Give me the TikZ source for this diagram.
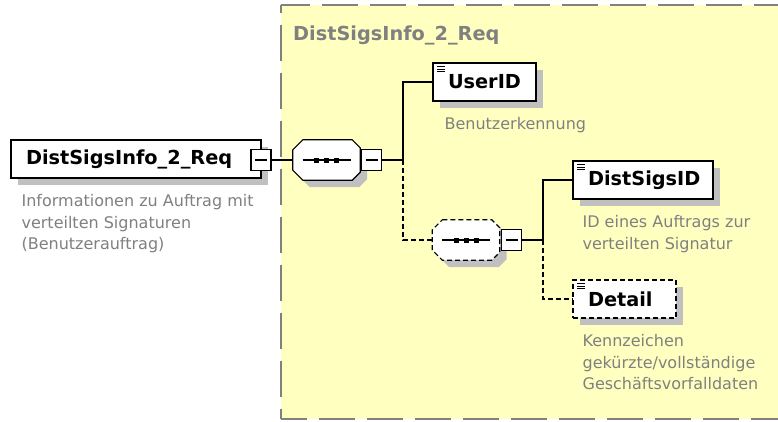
\documentclass[tikz,border=0pt]{standalone}
\usepackage{fontspec}
\setmainfont{DejaVu Sans}
\usetikzlibrary{shadows}

\definecolor{groupfill}{RGB}{255,255,192}
\definecolor{groupline}{RGB}{128,128,128}
\definecolor{shadowgray}{RGB}{192,192,192}
\definecolor{docgray}{RGB}{128,128,128}

\def \lineWidth {1.2pt}
\def \chamferL {10pt}
\def \chamferR {8pt}

\tikzset{
  boxshadow/.style={drop shadow={shadow xshift=7pt, shadow yshift=-7pt, fill=shadowgray, opacity=1}},
  elembox/.style={draw, fill=white, line width=\lineWidth, rectangle, minimum height=38pt,
    inner xsep=15pt, inner ysep=0pt, align=left, boxshadow,
    font=\fontsize{19.3}{21}\selectfont\bfseries},
  withicon/.style={path picture={
    \foreach \k in {0,1,2}
      \draw[solid, line width=0.8pt] ([xshift=4pt, yshift={-(3.5+2.6*\k)*1pt}]path picture bounding box.north west) -- ++(8pt,0);
  }},
  optional/.style={dash pattern=on 5pt off 3pt},
  foldbox/.style={draw, fill=white, line width=\lineWidth, rectangle, inner sep=0pt,
    minimum width=20pt, minimum height=21pt, path picture={
    \draw[solid, line width=\lineWidth] ([xshift=4pt]path picture bounding box.west) -- ([xshift=-4pt]path picture bounding box.east);
  }},
  seqslot/.style={rectangle, inner sep=0pt, minimum width=67pt, minimum height=40pt},
  seqline/.style={draw, fill=white, line width=\lineWidth, boxshadow},
  conn/.style={line width=\lineWidth},
  docnote/.style={anchor=north west, inner sep=0pt, align=left, text=docgray,
    font=\fontsize{16}{21.5}\selectfont},
  groupborder/.style={draw=groupline, line width=1.5pt, dash pattern=on 36pt off 12pt},
}

\begin{document}
\begin{tikzpicture}[x=1pt, y=-1pt]
  \useasboundingbox (0,0) rectangle (778,421);
  \clip (0,0) rectangle (778,421);
  \fill[white] (0,0) rectangle (778,421);

  % group of the complex type
  \fill[groupfill] (281,5) rectangle (790,419);
  \draw[groupborder, dash phase=7pt] (281,5) -- (790,5);
  \draw[groupborder, dash phase=26pt] (281,419) -- (281,5);
  \draw[groupborder, dash phase=10pt] (281,419) -- (790,419);
  \node[anchor=base west, inner sep=0pt, text=groupline, font=\fontsize{19.3}{21}\selectfont\bfseries]
    (grouptitle) at (293,40) {DistSigsInfo\_2\_Req};

  % root element
  \node[elembox, text width=220pt] (root) at (136,159) {DistSigsInfo\_2\_Req};
  \node[foldbox] (rootfold) at (261,160) {};
  \node[docnote] (rootdoc) at ([xshift=11pt, yshift=-16pt]root.south west)
    {Informationen zu Auftrag mit\\verteilten Signaturen\\(Benutzerauftrag)};

  % outer sequence
  \node[seqslot] (seq1) at (326.5,160) {};
  \path[seqline] ([xshift=\chamferL]seq1.north west) -- ([xshift=-\chamferR]seq1.north east)
    -- ([yshift=-\chamferR]seq1.north east) -- ([yshift=\chamferR]seq1.south east)
    -- ([xshift=-\chamferR]seq1.south east) -- ([xshift=\chamferL]seq1.south west)
    -- ([yshift=\chamferL]seq1.south west) -- ([yshift=-\chamferL]seq1.north west) -- cycle;
  \draw[conn] ([xshift=-24pt]seq1.center) -- ([xshift=24pt]seq1.center);
  \foreach \dx in {-10,0,10}
    \fill ([xshift=\dx pt]seq1.center) +(-2.5,-2.5) rectangle +(2.5,2.5);
  \node[foldbox] (seq1fold) at (371.5,160) {};
  \coordinate (fork1) at (403,160);

  % UserID
  \node[elembox, withicon, text width=73pt] (userid) at (484.5,82) {UserID};
  \node[docnote] (useriddoc) at ([xshift=12pt, yshift=-16pt]userid.south west) {Benutzerkennung};

  % inner optional sequence
  \node[seqslot] (seq2) at (466,240) {};
  \path[seqline, optional] ([xshift=\chamferL]seq2.north west) -- ([xshift=-\chamferR]seq2.north east)
    -- ([yshift=-\chamferR]seq2.north east) -- ([yshift=\chamferR]seq2.south east)
    -- ([xshift=-\chamferR]seq2.south east) -- ([xshift=\chamferL]seq2.south west)
    -- ([yshift=\chamferL]seq2.south west) -- ([yshift=-\chamferL]seq2.north west) -- cycle;
  \draw[conn] ([xshift=-24pt]seq2.center) -- ([xshift=24pt]seq2.center);
  \foreach \dx in {-10,0,10}
    \fill ([xshift=\dx pt]seq2.center) +(-2.5,-2.5) rectangle +(2.5,2.5);
  \node[foldbox] (seq2fold) at (511.5,240) {};
  \coordinate (fork2) at (543,240);

  % DistSigsID and Detail
  \node[elembox, withicon, text width=110pt] (distsigsid) at (643,180) {DistSigsID};
  \node[docnote] (distsigsiddoc) at ([xshift=10pt, yshift=-16pt]distsigsid.south west)
    {ID eines Auftrags zur\\verteilten Signatur};
  \node[elembox, withicon, optional, text width=73pt] (detail) at (624.5,299) {Detail};
  \node[docnote] (detaildoc) at ([xshift=10pt, yshift=-16pt]detail.south west)
    {Kennzeichen\\gekürzte/vollständige\\Geschäftsvorfalldaten};

  % connectors
  \draw[conn] (rootfold.east) -- (seq1.west);
  \draw[conn] (seq1fold.east) -- (fork1);
  \draw[conn] (fork1) |- (userid.west);
  \draw[conn, optional] (fork1) |- (seq2.west);
  \draw[conn] (seq2fold.east) -- (fork2);
  \draw[conn] (fork2) |- (distsigsid.west);
  \draw[conn, optional] (fork2) |- (detail.west);
\end{tikzpicture}
\end{document}
